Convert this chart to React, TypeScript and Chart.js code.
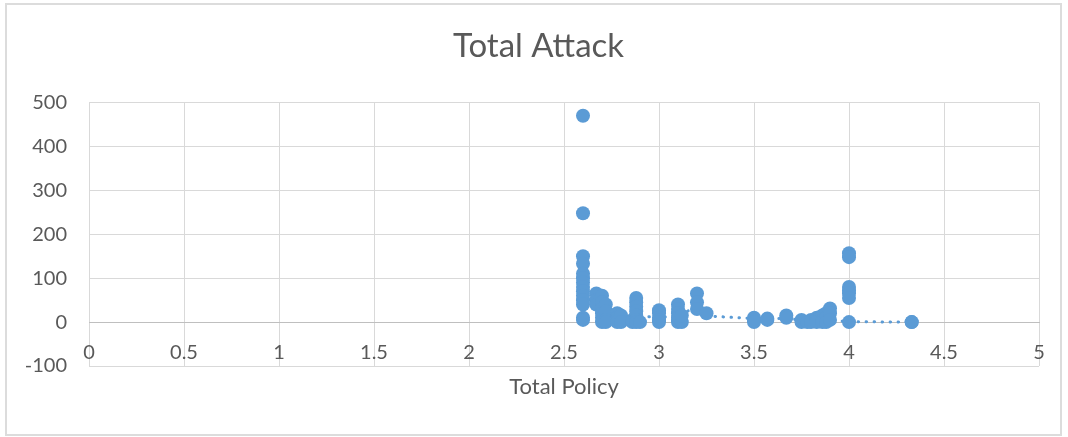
import React, { useEffect, useRef } from 'react';
import Chart from 'chart.js/auto';

const chartTitle = 'Total Attack';
const xAxisTitle = 'Total Policy';

// Scatter points: Total Policy (x) and Total Attack (y)
const policyValues = [
  2.6, 2.6, 2.6, 2.6, 2.6, 2.6, 2.6, 2.6, 2.6, 2.6, 2.6, 2.6, 2.6, 2.6,
  2.67, 2.67, 2.67,
  2.7, 2.7, 2.7, 2.7, 2.7, 2.7,
  2.72, 2.72, 2.72, 2.72,
  2.78, 2.78, 2.78, 2.78,
  2.8, 2.8,
  2.86, 2.86,
  2.88, 2.88, 2.88, 2.88, 2.88, 2.88, 2.88,
  2.9,
  3.0, 3.0, 3.0, 3.0, 3.0,
  3.1, 3.1, 3.1, 3.1, 3.1, 3.1,
  3.12, 3.12,
  3.2, 3.2, 3.2,
  3.25,
  3.5, 3.5, 3.5,
  3.57, 3.57,
  3.67, 3.67,
  3.75, 3.75,
  3.78,
  3.8, 3.8,
  3.83, 3.83, 3.83,
  3.86, 3.86, 3.86,
  3.88, 3.88, 3.88,
  3.9, 3.9, 3.9,
  4.0, 4.0, 4.0, 4.0, 4.0, 4.0, 4.0,
  4.33, 4.33,
];
const attackValues = [
  470, 248, 150, 133, 110, 100, 90, 80, 70, 60, 50, 40, 10, 5,
  65, 50, 40,
  60, 45, 30, 20, 10, 0,
  40, 25, 5, 0,
  20, 10, 5, 0,
  15, 0,
  0, 5,
  55, 45, 35, 25, 15, 5, 0,
  0,
  27, 20, 10, 5, 0,
  40, 30, 20, 10, 5, 0,
  0, 15,
  65, 45, 30,
  20,
  10, 5, 0,
  8, 5,
  15, 10,
  5, 0,
  0,
  5, 0,
  10, 5, 0,
  15, 5, 0,
  20, 10, 0,
  31, 20, 5,
  157, 148, 80, 72, 65, 55, 0,
  0, 0,
];

// Dotted trend line (moving-average style)
const trendX = [2.6, 2.7, 2.8, 2.88, 3.0, 3.1, 3.2, 3.25, 3.5, 3.57, 3.67, 3.75, 3.83, 3.88, 3.94, 4.0, 4.33];
const trendY = [60, 35, 10, 15, 10, 15, 35, 14, 8, 5, 10, 3, 5, 8, 3, 1, 0];

const xMin = 0;
const xMax = 5;
const xStep = 0.5;
const yMin = -100;
const yMax = 500;
const yStep = 100;

const TEXT = '#595959';
const GRID = '#d9d9d9';
const BLUE = '#5b9bd5';
const FONT = 'Lato, "Open Sans", sans-serif';

export default function App() {
  const ref = useRef<HTMLCanvasElement>(null);

  useEffect(() => {
    if (!ref.current) return;
    const chart = new Chart(ref.current, {
      type: 'scatter',
      data: {
        datasets: [
          {
            label: chartTitle,
            data: policyValues.map((x, i) => ({ x, y: attackValues[i] })),
            backgroundColor: BLUE,
            borderColor: BLUE,
            pointRadius: 7,
            pointBorderWidth: 0,
            pointHoverRadius: 7,
            order: 0,
          },
          {
            label: 'trend',
            data: trendX.map((x, i) => ({ x, y: trendY[i] })),
            showLine: true,
            pointRadius: 0,
            pointHoverRadius: 0,
            borderColor: BLUE,
            backgroundColor: BLUE,
            borderWidth: 3,
            borderDash: [0.5, 7.5],
            borderCapStyle: 'round',
            fill: false,
            order: 1,
          } as any,
        ],
      },
      options: {
        responsive: false,
        animation: false,
        layout: { padding: { left: 9, right: 0, top: 0, bottom: 37 } },
        plugins: {
          legend: { display: false },
          tooltip: { enabled: false },
          title: {
            display: true,
            text: chartTitle,
            color: TEXT,
            font: { family: FONT, size: 33, weight: 'normal' },
            padding: { top: 27, bottom: 36 },
          },
        },
        scales: {
          x: {
            type: 'linear',
            position: { y: 0 } as any,
            min: xMin,
            max: xMax,
            ticks: {
              stepSize: xStep,
              color: TEXT,
              font: { family: FONT, size: 20 },
              padding: 18,
              autoSkip: false,
              maxRotation: 0,
              callback: (v: any) => String(parseFloat(Number(v).toFixed(2))),
            },
            grid: { color: GRID, lineWidth: 1, drawTicks: false },
            border: { color: '#bfbfbf', width: 1 },
          },
          x2: {
            type: 'linear',
            position: 'bottom',
            min: xMin,
            max: xMax,
            ticks: { display: false },
            grid: { display: false, drawTicks: false },
            border: { display: false },
            title: {
              display: true,
              text: xAxisTitle,
              color: TEXT,
              font: { family: FONT, size: 22 },
              padding: 0,
            },
            afterFit: (s: any) => {
              s.height = 34;
            },
          },
          y: {
            type: 'linear',
            position: 'left',
            min: yMin,
            max: yMax,
            ticks: {
              stepSize: yStep,
              color: TEXT,
              font: { family: FONT, size: 20 },
              padding: 22,
            },
            grid: { color: GRID, lineWidth: 1, drawTicks: false },
            border: { display: false },
            afterFit: (s: any) => {
              s.width = 80;
            },
          },
          y2: {
            type: 'linear',
            position: 'right',
            min: yMin,
            max: yMax,
            ticks: { display: false },
            grid: { display: false, drawTicks: false },
            border: { display: false },
            afterFit: (s: any) => {
              s.width = 29;
            },
          },
        },
      } as any,
    });
    return () => chart.destroy();
  }, []);

  return (
    <div style={{ position: 'absolute', left: 0, top: 0, width: 1068, height: 437, background: '#fff' }}>
      <canvas ref={ref} width={1068} height={437} style={{ display: 'block', width: 1068, height: 437 }} />
      <div
        style={{
          position: 'absolute',
          left: 5,
          top: 3,
          width: 1057,
          height: 433,
          boxSizing: 'border-box',
          border: '2px solid #dcdcdc',
          pointerEvents: 'none',
        }}
      />
    </div>
  );
}
